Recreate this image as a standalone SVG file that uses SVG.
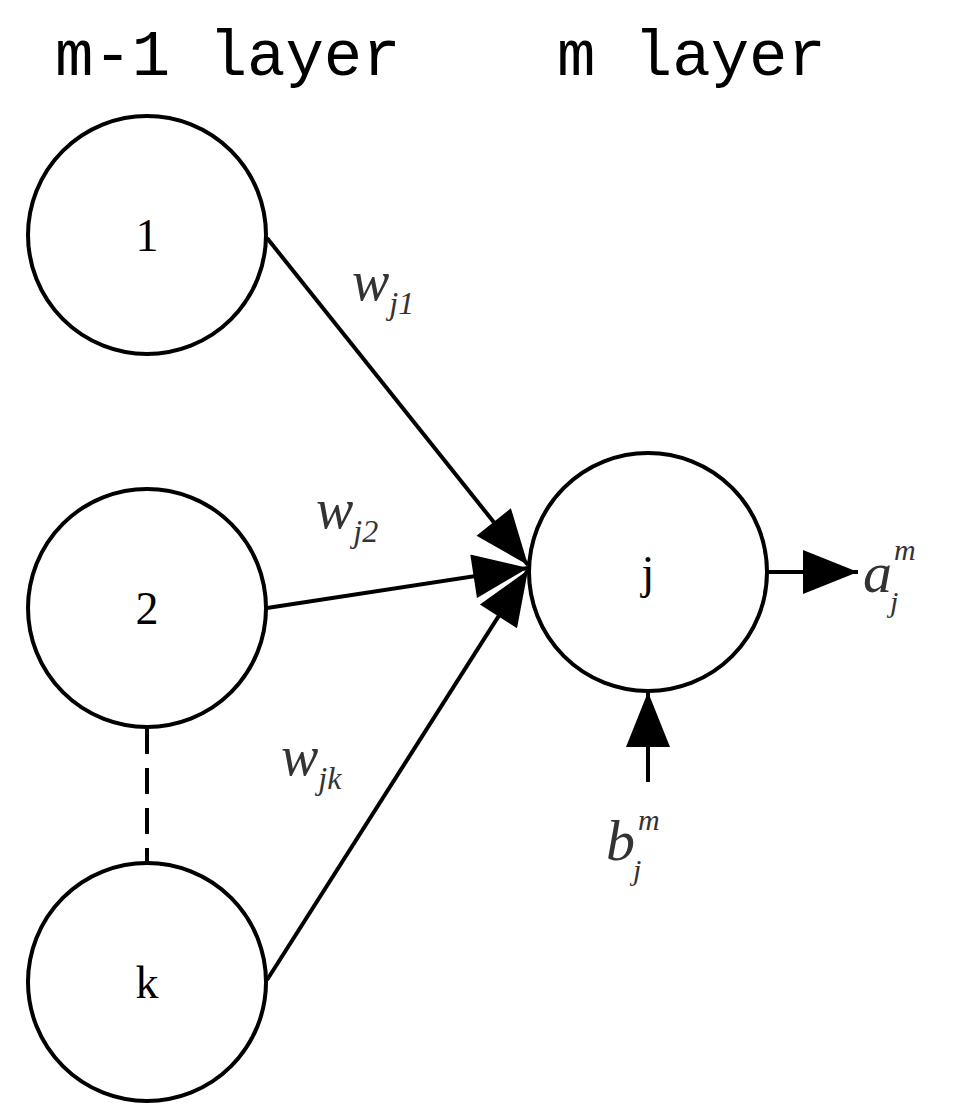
<svg xmlns="http://www.w3.org/2000/svg" width="972" height="1115" viewBox="0 0 972 1115">
<style>
.n{fill:#fff;stroke:#000;stroke-width:4}
.c{stroke:#000;stroke-width:4;fill:none}
.h{font-family:"Liberation Mono",monospace;font-size:64px}
.t{font-family:"Liberation Serif",serif;font-size:46px;text-anchor:middle}
.m{font-family:"Liberation Serif",serif;font-style:italic;fill:#333}
</style>
<defs>
<marker id="b" viewBox="0 0 10 8" refX="10" refY="4" markerWidth="62" markerHeight="44" orient="auto" markerUnits="userSpaceOnUse"><path d="M0,0L10,4L0,8Z"/></marker></defs>
<text class="h" x="55" y="75">m-1 layer</text>
<text class="h" x="557" y="75">m layer</text>
<g id="connectors">
<line class="c" x1="267" y1="238" x2="528" y2="565" marker-end="url(#b)"/>
<line class="c" x1="267" y1="608" x2="528" y2="568" marker-end="url(#b)"/>
<line class="c" x1="267" y1="980" x2="528" y2="570" marker-end="url(#b)"/>
<line class="c" x1="768" y1="572" x2="858" y2="572" marker-end="url(#b)"/>
<line class="c" x1="648" y1="782" x2="648" y2="692" marker-end="url(#b)"/>
<line class="c" x1="147" y1="728" x2="147" y2="862" stroke-dasharray="26,14"/>
</g>
<g id="n1"><circle class="n" cx="147" cy="235" r="119"/><text class="t" x="147" y="251">1</text></g>
<g id="n2"><circle class="n" cx="147" cy="608" r="119"/><text class="t" x="147" y="624">2</text></g>
<g id="nk"><circle class="n" cx="147" cy="982" r="119"/><text class="t" x="147" y="998">k</text></g>
<g id="nj"><circle class="n" cx="648" cy="572" r="119"/><text class="t" x="648" y="588">j</text></g>
<text class="m" x="352" y="300" font-size="56">w<tspan font-size="32" dy="14">j1</tspan></text>
<text class="m" x="316" y="528" font-size="56">w<tspan font-size="32" dy="14">j2</tspan></text>
<text class="m" x="281" y="775" font-size="56">w<tspan font-size="32" dy="14">jk</tspan></text>
<text class="m" x="863" y="592" font-size="58">a</text>
<text class="m" x="894" y="560" font-size="30">m</text>
<text class="m" x="890" y="612" font-size="30">j</text>
<text class="m" x="606" y="860" font-size="58">b</text>
<text class="m" x="638" y="830" font-size="30">m</text>
<text class="m" x="633" y="880" font-size="30">j</text>
</svg>
